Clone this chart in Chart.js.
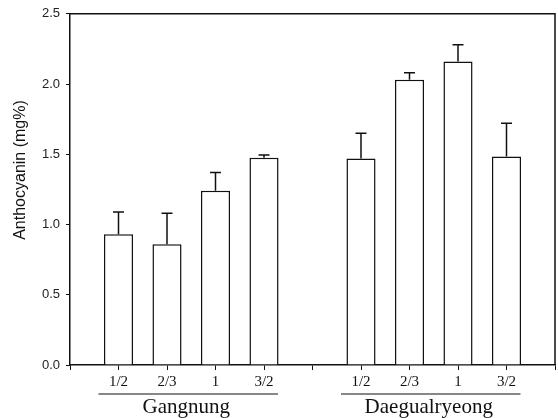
<!DOCTYPE html>
<html>
<head>
<meta charset="utf-8">
<script src="https://cdn.jsdelivr.net/npm/chart.js@4/dist/chart.umd.min.js"></script>
<style>
  body { margin: 0; background: #fff; }
  canvas { display: block; }
</style>
</head>
<body>
<canvas id="chart" width="558" height="418"></canvas>
<script>
const ratios = ["1/2", "2/3", "1", "3/2"];
const groups = ["Gangnung", "Daegualryeong"];
const gangnungMeans = [0.93, 0.86, 1.24, 1.475];
const gangnungUpper = [1.09, 1.08, 1.37, 1.495];
const daegualryeongMeans = [1.47, 2.03, 2.16, 1.485];
const daegualryeongUpper = [1.65, 2.08, 2.28, 1.72];
const yTitle = "Anthocyanin (mg%)";

// empty slots at both ends and between the two groups
const labels = ["", ...ratios, "", ...ratios, ""];
const means = [null, ...gangnungMeans, null, ...daegualryeongMeans, null];
const upper = [null, ...gangnungUpper, null, ...daegualryeongUpper, null];
const groupSlots = [[1, 4], [6, 9]];

const extras = {
  id: "extras",
  afterDatasetsDraw(chart) {
    const { ctx, chartArea: a, scales: { x, y } } = chart;
    ctx.save();
    ctx.strokeStyle = "#111";

    // frame on top and right
    ctx.lineWidth = 1.5;
    ctx.beginPath();
    ctx.moveTo(a.left, a.top);
    ctx.lineTo(a.right, a.top);
    ctx.lineTo(a.right, a.bottom);
    ctx.stroke();

    // upper error bars
    upper.forEach((u, i) => {
      if (u == null) return;
      const px = x.getPixelForValue(i);
      const top = y.getPixelForValue(u);
      ctx.beginPath();
      ctx.moveTo(px, y.getPixelForValue(means[i]));
      ctx.lineTo(px, top);
      ctx.moveTo(px - 5.5, top);
      ctx.lineTo(px + 5.5, top);
      ctx.stroke();
    });

    // group labels with a rule above
    ctx.font = "21px 'Liberation Serif', serif";
    ctx.fillStyle = "#111";
    ctx.textAlign = "center";
    ctx.textBaseline = "alphabetic";
    ctx.lineWidth = 1.2;
    groupSlots.forEach(([s, e], g) => {
      const x0 = x.getPixelForValue(s) - 20;
      const x1 = x.getPixelForValue(e) + 14;
      ctx.beginPath();
      ctx.moveTo(x0, 394);
      ctx.lineTo(x1, 394);
      ctx.stroke();
      ctx.fillText(groups[g], (x0 + x1) / 2 - 2, 413);
    });

    // y axis title
    ctx.font = "16px 'Liberation Sans', sans-serif";
    ctx.translate(21, 170);
    ctx.rotate(-Math.PI / 2);
    ctx.textBaseline = "middle";
    ctx.fillText(yTitle, 0, 0);
    ctx.restore();
  },
};

new Chart(document.getElementById("chart"), {
  type: "bar",
  data: {
    labels: labels,
    datasets: [{
      data: means,
      backgroundColor: "#fff",
      borderColor: "#111",
      borderWidth: 1.5,
      borderSkipped: "bottom",
      categoryPercentage: 1,
      barPercentage: 0.6,
    }],
  },
  options: {
    responsive: false,
    animation: false,
    layout: { padding: { top: 13, right: 2, left: 0, bottom: 0 } },
    plugins: { legend: { display: false }, tooltip: { enabled: false } },
    scales: {
      x: {
        offset: false,
        grid: { offset: false, drawOnChartArea: false, tickLength: 5, color: "#111" },
        border: { color: "#111", width: 1.5 },
        ticks: {
          autoSkip: false,
          maxRotation: 0,
          padding: 3,
          color: "#111",
          font: { family: "'Liberation Serif', serif", size: 15 },
        },
        afterFit(scale) { scale.height = 53; },
      },
      y: {
        min: 0,
        max: 2.5,
        grid: { drawOnChartArea: false, tickLength: 4, color: "#111" },
        border: { color: "#111", width: 1.5 },
        ticks: {
          stepSize: 0.5,
          padding: 6,
          color: "#222",
          font: { family: "'Liberation Sans', sans-serif", size: 13 },
          callback: (v) => v.toFixed(1),
        },
        afterFit(scale) { scale.width = 70; },
      },
    },
  },
  plugins: [extras],
});
</script>
</body>
</html>
